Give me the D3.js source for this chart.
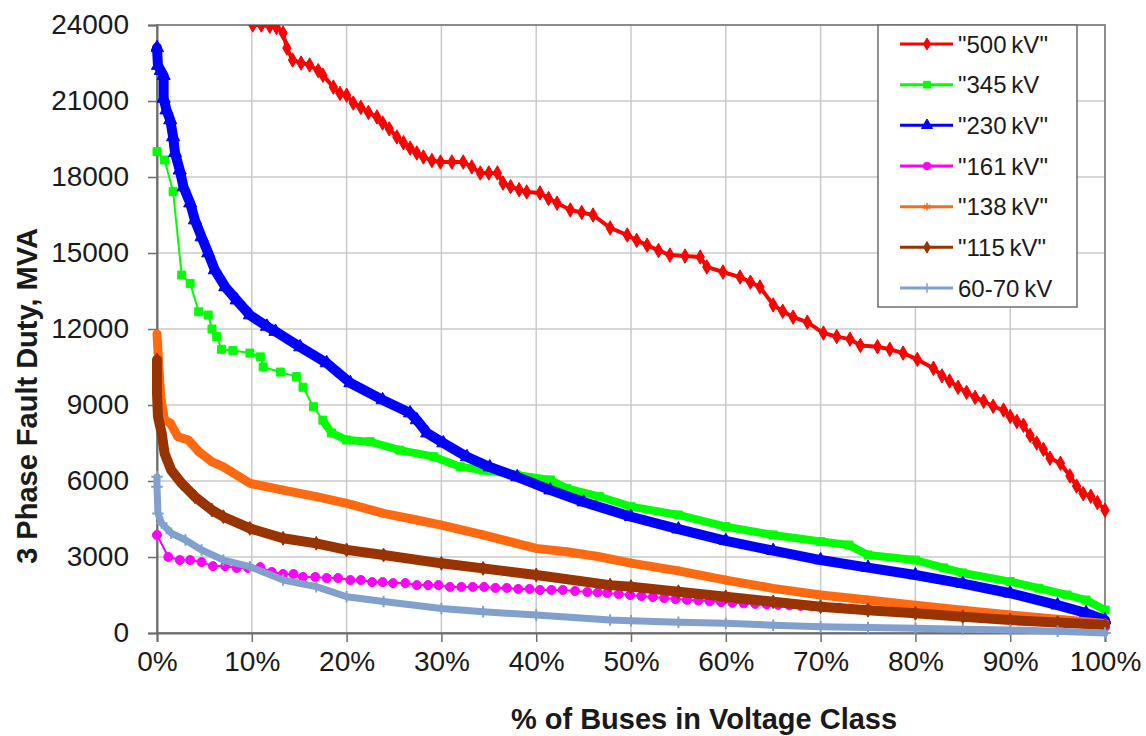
<!DOCTYPE html>
<html>
<head>
<meta charset="utf-8">
<script src="https://cdn.jsdelivr.net/npm/d3@7/dist/d3.min.js"></script>
<style>
  body { margin: 0; background: #fff; }
  text { font-family: "Liberation Sans", Arial, sans-serif; fill: #1a1a1a; }
</style>
</head>
<body>
<div class="plot-container"></div>
<script>
// values: [% of buses, fault duty MVA]
const kv500 = [[10.1,24000],[11.0,24000],[11.9,23950],[12.6,23900],[13.3,23680],[13.7,23090],[14.3,22620],[15.2,22500],[16.1,22420],[17.0,22200],[17.5,22020],[18.6,21550],[19.3,21300],[20,21230],[20.7,20920],[21.5,20750],[22.3,20550],[23.2,20370],[23.8,20130],[24.5,19900],[25.3,19580],[26.0,19350],[26.7,19140],[27.4,18950],[28.1,18790],[29.0,18650],[29.9,18590],[31.1,18590],[32.3,18590],[33.2,18400],[34.1,18160],[35.0,18160],[35.9,18160],[36.5,17760],[37.3,17620],[38.2,17500],[39,17410],[40.4,17370],[41.3,17150],[42.2,16970],[43.6,16700],[44.8,16600],[46,16500],[47.8,15990],[49.6,15710],[50.6,15500],[51.7,15310],[52.9,15100],[54.1,14920],[55.7,14880],[57.3,14840],[58,14450],[59.7,14250],[61.5,14050],[62.6,13850],[63.6,13660],[65,12950],[66,12700],[67.1,12470],[68.6,12270],[70.3,11840],[71.7,11700],[73.1,11600],[74.2,11350],[76,11300],[77.3,11200],[78.7,11050],[80.2,10800],[81.9,10450],[82.8,10150],[83.6,9950],[84.5,9700],[85.4,9500],[86.3,9300],[87.2,9150],[88.2,8950],[89.3,8800],[90,8550],[90.7,8350],[91.4,8200],[92.1,7800],[92.8,7500],[93.5,7250],[94.2,6900],[95.3,6700],[96.3,6200],[97,5800],[97.7,5500],[98.5,5400],[99.2,5150],[100,4850]];
const kv345 = [[0,19000],[0.8,18670],[1.7,17420],[2.6,14130],[3.5,13800],[4.4,12680],[5.4,12550],[5.8,12000],[6.3,11700],[6.8,11200],[8,11150],[9.8,11050],[10.9,10900],[11.2,10500],[13,10300],[14.7,10120],[15.4,9700],[16.5,8930],[17.5,8400],[18.4,7900],[20,7620],[22.5,7550],[25.6,7220],[29.2,6960],[32,6560],[34.4,6430],[37.9,6240],[41.5,6040],[43.2,5710],[46.7,5380],[50,4990],[55,4660],[60,4200],[65,3870],[70,3610],[73,3470],[75,3080],[80,2880],[83,2570],[85,2370],[90,2030],[93,1770],[96,1500],[98,1300],[100,910]];
const kv230 = [[0,23100],[0.1,22400],[0.4,22200],[0.7,22000],[0.7,21100],[1.0,20640],[1.4,20250],[1.7,19580],[1.9,18950],[2.4,18270],[2.8,17600],[3.5,16970],[4.0,16300],[4.7,15630],[5.4,15000],[6.1,14330],[7.2,13660],[8.4,13140],[9.8,12550],[11.6,12100],[12.5,11900],[15.1,11290],[17.9,10660],[20.4,9870],[23.8,9200],[26.7,8680],[27.4,8410],[28.5,7890],[30.2,7500],[32.7,6950],[35.1,6550],[38,6160],[41.5,5640],[45,5170],[50,4590],[55,4100],[60,3640],[65,3250],[70,2880],[75,2580],[80,2290],[85,1950],[90,1570],[95,1100],[98,790],[100,510]];
const kv161 = [[0,3870],[1.2,3000],[2.4,2880],[3.5,2880],[4.7,2800],[5.9,2640],[7.2,2640],[8.4,2570],[9.6,2570],[10.9,2600],[12.1,2410],[13.3,2330],[14.4,2330],[15.4,2210],[16.7,2210],[17.9,2170],[19.1,2170],[20.4,2090],[21.5,2090],[22.7,2010],[23.8,2010],[24.9,1970],[26.2,1970],[27.4,1890],[28.6,1890],[29.7,1890],[30.9,1820],[32.1,1820],[33.3,1820],[34.5,1820],[35.7,1780],[36.9,1780],[38.1,1740],[39.3,1740],[40.4,1700],[41.6,1700],[42.8,1700],[44.1,1660],[45.4,1620],[46.5,1600],[47.5,1580],[48.7,1540],[49.9,1500],[51.1,1460],[52.3,1420],[53.5,1380],[54.7,1340],[55.9,1310],[57.1,1280],[58.3,1250],[59.5,1220],[60.7,1190],[61.9,1170],[63.1,1150],[64.3,1130],[65.5,1110],[66.7,1090],[67.9,1070],[69.1,1050],[70.3,1040],[72,1000],[75,950],[78,880],[81,800],[84,720],[87,640],[90,560],[93,470],[96,380],[98,300],[100,230]];
const kv138 = [[0,11800],[0.2,10500],[0.4,9300],[0.8,8400],[1.4,8290],[2.2,7750],[3.3,7620],[4.4,7160],[5.8,6760],[7,6560],[9.8,5910],[13.3,5640],[16.8,5380],[20,5120],[23.9,4720],[27.4,4460],[30,4260],[34.4,3870],[37.9,3540],[40,3340],[43.2,3210],[46.5,3020],[50,2760],[55,2450],[60,2090],[65,1760],[70,1500],[75,1300],[80,1100],[85,900],[90,710],[95,540],[100,380]];
const kv115 = [[0,10780],[0,10380],[0,9460],[0.1,8540],[0.5,7880],[0.8,7090],[1.5,6430],[2.6,5910],[4,5380],[5.8,4850],[7,4590],[9.8,4130],[13.3,3740],[16.8,3540],[20,3280],[23.9,3080],[30,2750],[34.4,2550],[40,2290],[47.8,1890],[50,1830],[55,1630],[60,1430],[65,1230],[70,1040],[75,900],[80,780],[85,640],[90,510],[95,410],[100,320]];
const kv6070 = [[0,6170],[0,5770],[0.1,4720],[0.5,4330],[1.5,3940],[3,3670],[4.7,3280],[7,2880],[9.8,2620],[13.3,2090],[16.8,1830],[20,1430],[23.9,1240],[30,970],[34.4,840],[40,710],[47.8,510],[50,480],[55,420],[60,380],[65,310],[70,250],[75,220],[80,190],[85,150],[90,120],[95,70],[100,0]];

const seriesData = [kv500, kv345, kv230, kv161, kv138, kv115, kv6070];
const seriesNames = ['"500\u2009kV"', '"345\u2009kV', '"230\u2009kV"', '"161\u2009kV"', '"138\u2009kV"', '"115\u2009kV"', '60-70\u2009kV'];
const xTicks = [0, 10, 20, 30, 40, 50, 60, 70, 80, 90, 100];
const yTicks = [0, 3000, 6000, 9000, 12000, 15000, 18000, 21000, 24000];

// styles
const colors = ["#ff0000", "#00ff00", "#0000ff", "#ff00ff", "#ff6a10", "#993300", "#82a0cd"];
const symbols = [d3.symbolDiamond, d3.symbolSquare, d3.symbolTriangle, d3.symbolCircle, d3.symbolAsterisk, d3.symbolDiamond, d3.symbolPlus];
const markerSize = [60, 64, 75, 64, 55, 55, 45];
const bandWidth = [4, 8, 10, 2, 9, 10, 7];
const denseFrom = [0, 17, 0, 200, 0, 0, 0];

const W = 1146, H = 736;
const plot = { left: 157, right: 1105, top: 25, bottom: 633 };

const svg = d3.select("div.plot-container")
  .append("svg")
  .attr("width", W)
  .attr("height", H);

svg.append("rect").attr("width", W).attr("height", H).attr("fill", "#fff");

const x = d3.scaleLinear().domain([0, 100]).range([plot.left, plot.right]);
const y = d3.scaleLinear().domain([0, 24000]).range([plot.bottom, plot.top]);

// gridlines
svg.append("g")
  .selectAll("line")
  .data(xTicks.slice(1, -1))
  .join("line")
  .attr("x1", d => x(d)).attr("x2", d => x(d))
  .attr("y1", plot.top).attr("y2", plot.bottom)
  .attr("stroke", "#cacaca").attr("stroke-width", 1.5);

svg.append("g")
  .selectAll("line")
  .data(yTicks.slice(1, -1))
  .join("line")
  .attr("x1", plot.left).attr("x2", plot.right)
  .attr("y1", d => y(d)).attr("y2", d => y(d))
  .attr("stroke", "#cacaca").attr("stroke-width", 1.5);

// plot border
svg.append("rect")
  .attr("x", plot.left).attr("y", plot.top)
  .attr("width", plot.right - plot.left).attr("height", plot.bottom - plot.top)
  .attr("fill", "none").attr("stroke", "#8c8c8c").attr("stroke-width", 2);

// axes
const yAxis = d3.axisLeft(y).tickValues(yTicks).tickSize(9).tickPadding(19).tickFormat(d3.format("d"));
const xAxis = d3.axisBottom(x).tickValues(xTicks).tickSize(9).tickPadding(9).tickFormat(d => d + "%");

const gy = svg.append("g").attr("transform", `translate(${plot.left},0)`).call(yAxis);
const gx = svg.append("g").attr("transform", `translate(0,${plot.bottom})`).call(xAxis);

[gy, gx].forEach(g => {
  g.select(".domain").attr("stroke", "#6e6e6e").attr("stroke-width", 2);
  g.selectAll(".tick line").attr("stroke", "#6e6e6e").attr("stroke-width", 1.5);
  g.selectAll(".tick text")
    .attr("font-family", '"Liberation Sans", Arial, sans-serif')
    .attr("font-size", 28)
    .attr("fill", "#1a1a1a");
});

// axis titles
svg.append("text")
  .attr("transform", "translate(37,396) rotate(-90)")
  .attr("text-anchor", "middle")
  .attr("font-size", 29).attr("font-weight", "bold")
  .text("3 Phase Fault Duty, MVA");

svg.append("text")
  .attr("x", 704).attr("y", 729)
  .attr("text-anchor", "middle")
  .attr("font-size", 29).attr("font-weight", "bold")
  .text("% of Buses in Voltage Class");

// series
svg.append("clipPath").attr("id", "plotclip")
  .append("rect")
  .attr("x", plot.left - 6).attr("y", plot.top)
  .attr("width", plot.right - plot.left + 12).attr("height", plot.bottom - plot.top + 6);

const line = d3.line().x(d => x(d[0])).y(d => y(d[1]));
const seriesG = svg.append("g").attr("clip-path", "url(#plotclip)");

seriesData.forEach((data, i) => {
  const g = seriesG.append("g");
  g.append("path").datum(data)
    .attr("d", line)
    .attr("fill", "none").attr("stroke", colors[i])
    .attr("stroke-width", 2).attr("stroke-linejoin", "round");
  const dense = data.filter(d => d[0] >= denseFrom[i]);
  if (dense.length > 1) {
    g.append("path").datum(dense)
      .attr("d", line)
      .attr("fill", "none").attr("stroke", colors[i])
      .attr("stroke-width", bandWidth[i])
      .attr("stroke-linejoin", "round").attr("stroke-linecap", "round");
  }
  const stroked = symbols[i] === d3.symbolAsterisk || symbols[i] === d3.symbolPlus;
  g.selectAll("path.mark")
    .data(data)
    .join("path")
    .attr("class", "mark")
    .attr("transform", d => `translate(${x(d[0])},${y(d[1])})`)
    .attr("d", d3.symbol(symbols[i], markerSize[i]))
    .attr("fill", stroked ? "none" : colors[i])
    .attr("stroke", colors[i])
    .attr("stroke-width", stroked ? 2 : 1);
});

// legend
const legend = svg.append("g");
legend.append("rect")
  .attr("x", 878).attr("y", 25).attr("width", 199).attr("height", 282)
  .attr("fill", "#fff").attr("stroke", "#6e6e6e").attr("stroke-width", 1.5);

const rowY = d3.scalePoint().domain(d3.range(seriesNames.length)).range([44, 288]);

seriesNames.forEach((name, i) => {
  const ry = rowY(i);
  legend.append("line")
    .attr("x1", 900).attr("x2", 953).attr("y1", ry).attr("y2", ry)
    .attr("stroke", colors[i]).attr("stroke-width", 3);
  const stroked = symbols[i] === d3.symbolAsterisk || symbols[i] === d3.symbolPlus;
  legend.append("path")
    .attr("transform", `translate(927,${ry})`)
    .attr("d", d3.symbol(symbols[i], markerSize[i] * 0.7))
    .attr("fill", stroked ? "none" : colors[i])
    .attr("stroke", colors[i]).attr("stroke-width", stroked ? 1.5 : 1);
  legend.append("text")
    .attr("x", 958).attr("y", ry + 8.5)
    .attr("font-size", 24)
    .text(name);
});
</script>
</body>
</html>
